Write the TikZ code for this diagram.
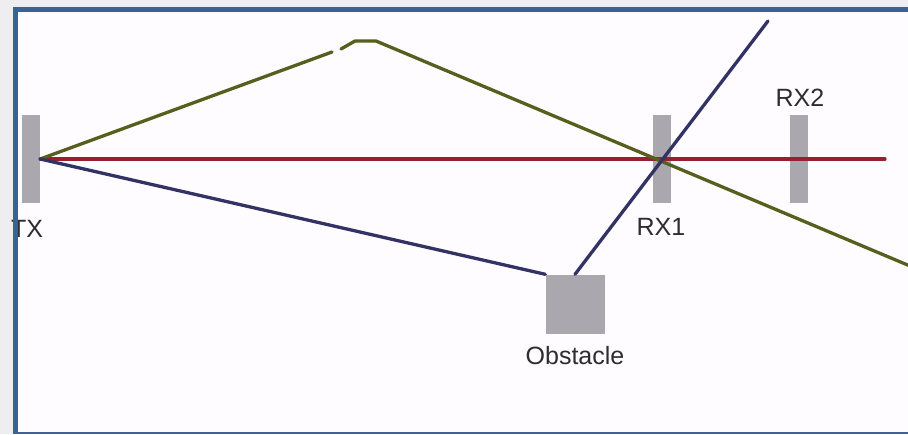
\documentclass[tikz,border=0pt]{standalone}
\usepackage{fontspec}
\setmainfont{Liberation Sans}
\usetikzlibrary{positioning}

\definecolor{outgray}{RGB}{238,238,240}
\definecolor{bgwhite}{RGB}{255,252,255}
\definecolor{framecol}{RGB}{58,98,152}
\definecolor{bargray}{RGB}{170,168,174}
\definecolor{txtgray}{RGB}{45,45,48}
\definecolor{redray}{RGB}{150,32,45}
\definecolor{greenray}{RGB}{85,95,30}
\definecolor{blueray}{RGB}{50,50,100}

\begin{document}
\begin{tikzpicture}[x=1pt, y=-1pt,
    bar/.style={fill=bargray, minimum width=18pt, minimum height=88pt, inner sep=0pt},
    lbl/.style={text=txtgray, font=\fontsize{25}{25}\selectfont, inner sep=0pt},
    ray/.style={line width=3.3pt, line cap=round}]
    \useasboundingbox (0,0) rectangle (908,434);
    \fill[outgray] (0,0) rectangle (908,434);
    \fill[bgwhite] (16,10) rectangle (908,434);

    % transmitter, receivers, obstacle
    \node[bar] (tx) at (31,159) {};
    \node[bar] (rx1) at (662,159) {};
    \node[bar] (rx2) at (799,159) {};
    \node[fill=bargray, minimum size=59pt, inner sep=0pt] (obst) at (575,304) {};

    \node[lbl] (txlbl) at (27,229) {TX};
    \node[lbl] (rx1lbl) at (661,227) {RX1};
    \node[lbl] (rx2lbl) at (800,98) {RX2};
    \node[lbl] (obstlbl) at (575,356) {Obstacle};

    % ray end points
    \coordinate (redend) at (885,159);
    \coordinate (gup) at (332,52);
    \coordinate (gtopa) at (341,49);
    \coordinate (gtopb) at (355,41);
    \coordinate (gtopc) at (376,41);
    \coordinate (gend) at (910,266);
    \coordinate (bend) at (768,21);

    % rays
    \draw[ray, redray] (tx.east) -- (redend);
    \draw[ray, greenray] (tx.east) -- (gup);
    \draw[ray, greenray, line join=round] (gtopa) -- (gtopb) -- (gtopc) -- (gend);
    \draw[ray, blueray] (tx.east) -- (obst.north west);
    \draw[ray, blueray] (obst.north) -- (bend);

    % frame
    \draw[framecol, line width=5pt] (908,9.5) -- (15.5,9.5) -- (15.5,434);
    \draw[framecol, line width=2.5pt] (15.5,433) -- (908,433);
\end{tikzpicture}
\end{document}
